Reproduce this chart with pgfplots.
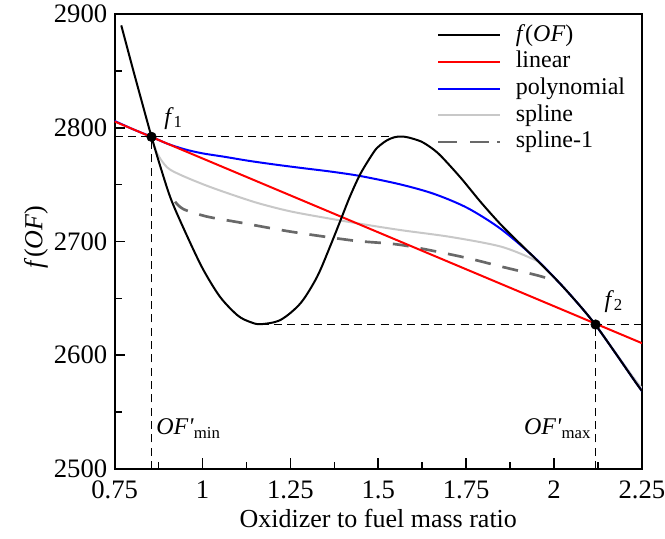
\documentclass[border=0pt]{standalone}
\usepackage{pgfplots}
\pgfplotsset{compat=1.18}
\usepackage{fontspec}
\setmainfont{Liberation Serif}

\definecolor{splinegray}{RGB}{200,200,200}
\definecolor{dashgray}{RGB}{105,105,105}

\newcommand{\fstick}{\fontsize{20}{24}\selectfont}
\newcommand{\fslab}{\fontsize{19.5}{23}\selectfont}
\newcommand{\fsleg}{\fontsize{18}{21}\selectfont}

\begin{document}
\begin{tikzpicture}
\begin{axis}[
    scale only axis,
    width=395.55pt, height=341.25pt,
    xmin=0.75, xmax=2.25, ymin=2500, ymax=2900,
    xtick={0.75,1,1.25,1.5,1.75,2,2.25},
    ytick={2500,2600,2700,2800,2900},
    minor tick num=1,
    xtick pos=bottom, ytick pos=left,
    tick align=inside,
    major tick length=8pt, minor tick length=5.5pt,
    every tick/.style={black, line width=1.2pt},
    axis line style={line width=1.5pt},
    scaled y ticks=false,
    /pgf/number format/1000 sep={},
    /pgf/number format/assume math mode=true,
    tick label style={font=\fstick},
    xticklabel style={anchor=base, yshift=-22pt},
    yticklabel style={xshift=-2pt},
    xlabel={Oxidizer to fuel mass ratio},
    ylabel={\textit{f}(\textit{OF})},
    label style={font=\fslab},
    xlabel style={at={(axis description cs:0.5,0)}, anchor=base, yshift=-44pt},
    ylabel style={at={(axis description cs:-0.149,0.51)}, anchor=center},
    legend cell align=left,
    legend style={draw=none, fill=none, font=\fsleg, inner sep=0pt,
        at={(0.611,0.982)}, anchor=north west, row sep=0.5pt,
        nodes={inner sep=1pt, text height=13pt, text depth=4.5pt}},
    legend image code/.code={\draw[#1] (0pt,0pt) -- (46.5pt,0pt); \path (56pt,0pt);},
]
% legend entries
\addlegendimage{black, line width=1.5pt}
\addlegendentry{\textit{f}(\textit{OF})}
\addlegendimage{red, line width=1.5pt}
\addlegendentry{linear}
\addlegendimage{blue, line width=1.5pt}
\addlegendentry{polynomial}
\addlegendimage{splinegray, line width=1.5pt}
\addlegendentry{spline}
\addlegendimage{dashgray, line width=2pt, dash pattern=on 14pt off 10pt on 14pt off 6pt on 2.5pt off 30pt}
\addlegendentry{spline-1}

% guide lines
\addplot[black, line width=0.9pt, dash pattern=on 6pt off 4pt, forget plot]
    coordinates {(0.75,2792) (1.564,2792)};
\addplot[black, line width=0.9pt, dash pattern=on 6pt off 4pt, forget plot]
    coordinates {(0.855,2500) (0.855,2792)};
\addplot[black, line width=0.9pt, dash pattern=on 6pt off 4pt, forget plot]
    coordinates {(1.165,2627.3) (2.25,2627.3)};
\addplot[black, line width=0.9pt, dash pattern=on 6pt off 4pt, forget plot]
    coordinates {(2.118,2500) (2.118,2627)};

% spline
\addplot[splinegray, line width=1.5pt, smooth, forget plot] coordinates {
    (0.855,2792) (0.872,2777) (0.900,2765) (0.938,2758.5) (1.000,2750.5)
    (1.062,2743.5) (1.155,2734) (1.250,2726.5) (1.355,2720.5) (1.450,2715.5)
    (1.564,2710) (1.706,2704) (1.849,2695.5) (1.944,2684) (1.963,2680)
    (2.020,2662) (2.077,2642.2) (2.118,2626.6) (2.172,2603.5) (2.229,2579) (2.25,2571)
};
% spline-1
\addplot[dashgray, line width=2pt, smooth, dash pattern=on 12pt off 9pt, forget plot] coordinates {
    (0.922,2735) (0.946,2728.4) (1.013,2721.9) (1.108,2716.6) (1.250,2708.7)
    (1.430,2700.8) (1.564,2697) (1.735,2686.7) (1.849,2678) (1.972,2668.5) (2.001,2662.7)
};
% polynomial
\addplot[blue, line width=1.5pt, smooth, forget plot] coordinates {
    (0.75,2806) (0.80,2799) (0.855,2792) (0.90,2786) (0.95,2781) (1.00,2777.5)
    (1.062,2774.5) (1.13,2771) (1.2025,2767.8) (1.28,2764.7) (1.364,2761.5)
    (1.450,2757.5) (1.564,2750.1) (1.659,2741.8) (1.754,2729.4) (1.849,2710.9)
    (1.944,2686) (2.020,2662) (2.077,2642.2) (2.118,2626.6) (2.172,2603)
    (2.229,2577.5) (2.25,2568.5)
};
% linear
\addplot[red, line width=1.5pt, forget plot] coordinates {
    (0.75,2805.5) (2.25,2610.6)
};
% f(OF)
\addplot[black, line width=1.5pt, smooth, forget plot] coordinates {
    (0.769,2890) (0.80,2854) (0.83,2820) (0.855,2792) (0.88,2766) (0.91,2737.5)
    (0.95,2709) (1.00,2676.5) (1.05,2651.3) (1.10,2635) (1.135,2629.3) (1.165,2627.3)
    (1.2216,2631) (1.2787,2645.7) (1.326,2669) (1.364,2696.5) (1.393,2719)
    (1.42,2740) (1.450,2760) (1.488,2779) (1.505,2784.6) (1.525,2789)
    (1.545,2791.6) (1.564,2792.3) (1.585,2791.5) (1.621,2788) (1.65,2782.5)
    (1.678,2775.2) (1.735,2755.8) (1.792,2734.4) (1.849,2714.7) (1.906,2697.2)
    (1.963,2680) (2.020,2662) (2.077,2642.2) (2.118,2626.6) (2.172,2603)
    (2.229,2577.5) (2.25,2568.5)
};
% points
\addplot[only marks, mark=*, mark size=3.6pt, black, forget plot]
    coordinates {(0.855,2792) (2.118,2627)};

\node[anchor=base west, font=\fsleg] at (axis cs:0.878,2803) {\textit{f}\textsubscript{1}};
\node[anchor=base west, font=\fsleg] at (axis cs:2.130,2642) {\textit{f}\textsubscript{2}};
\node[anchor=base west, font=\fsleg, inner sep=0pt] at (axis cs:0.868,2530)
    {\textit{OF\textquotesingle}\textsubscript{min}};
\node[anchor=base east, font=\fsleg, inner sep=0pt] at (axis cs:2.106,2530)
    {\textit{OF\textquotesingle}\textsubscript{max}};
\end{axis}
\pgfresetboundingbox
\path[use as bounding box] ([shift={(-85.95pt,-52.5pt)}]current axis.south west)
    rectangle ([shift={(17.25pt,10.5pt)}]current axis.north east);
\end{tikzpicture}
\end{document}
